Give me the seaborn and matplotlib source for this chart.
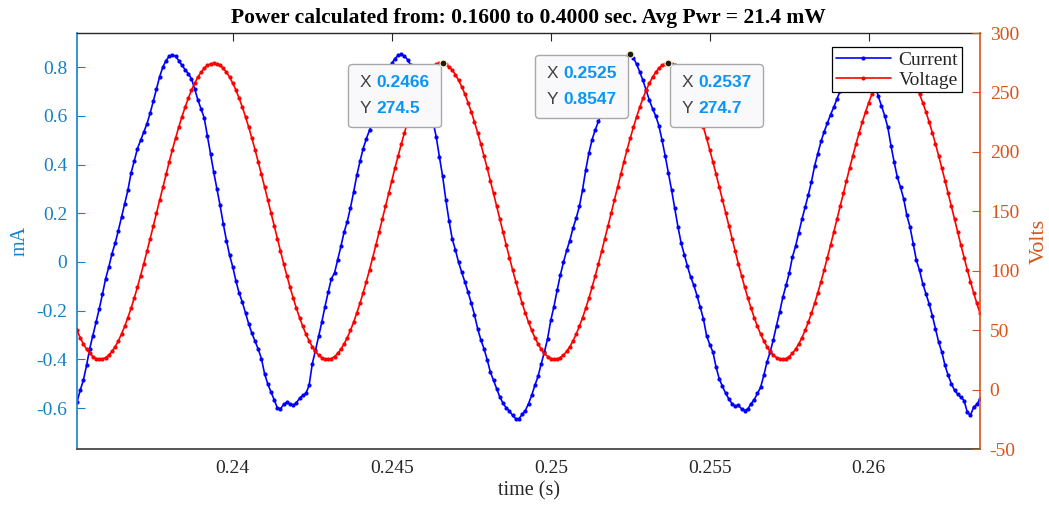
#!/usr/bin/env python3
"""Current / voltage trace with MATLAB-style data tips, redrawn with seaborn."""

import matplotlib
matplotlib.use("Agg")
import matplotlib.pyplot as plt
import numpy as np
import pandas as pd
import seaborn as sns
from matplotlib.offsetbox import AnnotationBbox, HPacker, TextArea, VPacker
from matplotlib.ticker import FuncFormatter

# sampling of the trace shown (10 kHz, starting at 0.2351 s)
T_START = 0.2351
T_STEP = 0.0001

# current in mA, one value per sample
current_ma = [
    -0.575, -0.527, -0.486, -0.425, -0.356, -0.302, -0.247, -0.192, -0.133, -0.069,
    -0.021, 0.034, 0.077, 0.129, 0.184, 0.239, 0.294, 0.365, 0.414, 0.465,
    0.499, 0.533, 0.567, 0.611, 0.660, 0.711, 0.761, 0.800, 0.827, 0.844,
    0.851, 0.844, 0.827, 0.807, 0.790, 0.773, 0.752, 0.711, 0.666, 0.629,
    0.592, 0.519, 0.444, 0.369, 0.300, 0.232, 0.157, 0.088, 0.027, -0.021,
    -0.079, -0.128, -0.165, -0.210, -0.254, -0.293, -0.325, -0.358, -0.397, -0.459,
    -0.501, -0.534, -0.565, -0.599, -0.603, -0.585, -0.576, -0.584, -0.589, -0.578,
    -0.560, -0.548, -0.540, -0.507, -0.418, -0.363, -0.306, -0.247, -0.183, -0.124,
    -0.069, -0.045, 0.010, 0.064, 0.122, 0.166, 0.222, 0.287, 0.355, 0.413,
    0.465, 0.506, 0.540, 0.575, 0.615, 0.660, 0.705, 0.750, 0.790, 0.815,
    0.835, 0.848, 0.852, 0.845, 0.830, 0.807, 0.790, 0.770, 0.745, 0.705,
    0.660, 0.620, 0.575, 0.512, 0.430, 0.351, 0.255, 0.170, 0.095, 0.050,
    -0.001, -0.042, -0.083, -0.124, -0.169, -0.216, -0.274, -0.319, -0.356, -0.401,
    -0.452, -0.486, -0.521, -0.555, -0.580, -0.599, -0.612, -0.630, -0.644, -0.644,
    -0.626, -0.610, -0.582, -0.548, -0.507, -0.470, -0.418, -0.370, -0.315, -0.240,
    -0.183, -0.117, -0.055, -0.001, 0.047, 0.088, 0.139, 0.180, 0.228, 0.296,
    0.378, 0.447, 0.502, 0.543, 0.577, 0.610, 0.645, 0.680, 0.715, 0.750,
    0.780, 0.805, 0.828, 0.845, 0.8547, 0.838, 0.812, 0.780, 0.745, 0.705,
    0.665, 0.630, 0.600, 0.560, 0.500, 0.435, 0.365, 0.295, 0.220, 0.145,
    0.078, 0.030, -0.018, -0.062, -0.096, -0.138, -0.186, -0.233, -0.302, -0.339,
    -0.370, -0.432, -0.480, -0.511, -0.539, -0.562, -0.582, -0.593, -0.589, -0.603,
    -0.610, -0.603, -0.582, -0.565, -0.540, -0.515, -0.466, -0.411, -0.370, -0.319,
    -0.261, -0.206, -0.144, -0.096, -0.046, 0.020, 0.065, 0.120, 0.175, 0.225,
    0.275, 0.330, 0.395, 0.445, 0.495, 0.535, 0.570, 0.605, 0.635, 0.668,
    0.700, 0.735, 0.770, 0.800, 0.825, 0.842, 0.850, 0.845, 0.830, 0.810,
    0.780, 0.730, 0.680, 0.642, 0.601, 0.553, 0.478, 0.410, 0.348, 0.307,
    0.259, 0.191, 0.143, 0.075, 0.006, -0.035, -0.089, -0.130, -0.172, -0.220,
    -0.274, -0.329, -0.370, -0.425, -0.466, -0.500, -0.527, -0.544, -0.555, -0.569,
    -0.617, -0.630, -0.596, -0.585, -0.562,
]

# voltage in V, one value per sample
voltage_v = [
    49.8, 43.7, 38.4, 34.0, 30.4, 27.8, 26.1, 25.4, 25.7, 26.9,
    29.0, 32.1, 36.1, 41.0, 46.7, 53.2, 60.5, 68.4, 77.0, 86.1,
    95.8, 105.8, 116.2, 126.9, 137.7, 148.6, 159.6, 170.4, 181.2, 191.6,
    201.8, 211.5, 220.8, 229.5, 237.6, 245.1, 251.8, 257.7, 262.8, 267.0,
    270.3, 272.7, 274.1, 274.6, 274.1, 272.7, 270.3, 267.0, 262.8, 257.7,
    251.8, 245.1, 237.6, 229.5, 220.8, 211.5, 201.8, 191.6, 181.2, 170.4,
    159.6, 148.6, 137.7, 126.9, 116.2, 105.8, 95.8, 86.1, 77.0, 68.4,
    60.5, 53.2, 46.7, 41.0, 36.1, 32.1, 29.0, 26.9, 25.7, 25.4,
    26.1, 27.8, 30.4, 34.0, 38.4, 43.7, 49.8, 56.7, 64.4, 72.6,
    81.5, 90.9, 100.7, 111.0, 121.5, 132.3, 143.2, 154.1, 165.0, 175.8,
    186.4, 196.7, 206.7, 216.2, 225.2, 233.6, 241.4, 248.5, 254.8, 260.3,
    265.0, 268.8, 271.6, 273.5, 274.5, 274.5, 273.5, 271.6, 268.8, 265.0,
    260.3, 254.8, 248.5, 241.4, 233.6, 225.2, 216.2, 206.7, 196.7, 186.4,
    175.8, 165.0, 154.1, 143.2, 132.3, 121.5, 111.0, 100.7, 90.9, 81.5,
    72.6, 64.4, 56.7, 49.8, 43.7, 38.4, 34.0, 30.4, 27.8, 26.1,
    25.4, 25.7, 26.9, 29.0, 32.1, 36.1, 41.0, 46.7, 53.2, 60.5,
    68.4, 77.0, 86.1, 95.8, 105.8, 116.2, 126.9, 137.7, 148.6, 159.6,
    170.4, 181.2, 191.6, 201.8, 211.5, 220.8, 229.5, 237.6, 245.1, 251.8,
    257.7, 262.8, 267.0, 270.3, 272.7, 274.1, 274.7, 274.1, 272.7, 270.3,
    267.0, 262.8, 257.7, 251.8, 245.1, 237.6, 229.5, 220.8, 211.5, 201.8,
    191.6, 181.2, 170.4, 159.6, 148.6, 137.7, 126.9, 116.2, 105.8, 95.8,
    86.1, 77.0, 68.4, 60.5, 53.2, 46.7, 41.0, 36.1, 32.1, 29.0,
    26.9, 25.7, 25.4, 26.1, 27.8, 30.4, 34.0, 38.4, 43.7, 49.8,
    56.7, 64.4, 72.6, 81.5, 90.9, 100.7, 111.0, 121.5, 132.3, 143.2,
    154.1, 165.0, 175.8, 186.4, 196.7, 206.7, 216.2, 225.2, 233.6, 241.4,
    248.5, 254.8, 260.3, 265.0, 268.8, 271.6, 273.5, 274.5, 274.5, 273.5,
    271.6, 268.8, 265.0, 260.3, 254.8, 248.5, 241.4, 233.6, 225.2, 216.2,
    206.7, 196.7, 186.4, 175.8, 165.0, 154.1, 143.2, 132.3, 121.5, 111.0,
    100.7, 90.9, 81.5, 72.6, 64.4,
]

# data tips: which series, which sample, which side the box sits on
tip_series = ["Voltage", "Current", "Voltage"]
tip_index = [115, 174, 186]
tip_side = ["left", "left", "right"]

x_ticks = [0.24, 0.245, 0.25, 0.255, 0.26]
ma_ticks = [-0.6, -0.4, -0.2, 0, 0.2, 0.4, 0.6, 0.8]
volt_ticks = [-50, 0, 50, 100, 150, 200, 250, 300]
ma_lim = (-0.768, 0.94)
volt_lim = (-50, 300)

TITLE = "Power calculated from: 0.1600 to 0.4000 sec. Avg Pwr = 21.4 mW"

LEFT_C = "#1580c6"
RIGHT_C = "#D95319"
AX_C = "#262626"


def fmt_g(v, _pos=None):
    return f"{round(v, 6):g}"


def main() -> None:
    assert len(current_ma) == len(voltage_v)
    time = np.round(T_START + T_STEP * np.arange(len(current_ma)), 6)
    df = pd.DataFrame({"time": time, "Current": current_ma, "Voltage": voltage_v})

    sns.set_theme(style="white")
    plt.rcParams.update({
        "font.family": ["Liberation Serif", "DejaVu Serif"],
        "axes.unicode_minus": False,
    })

    fig = plt.figure(figsize=(10.49, 5.14), dpi=100)
    ax = fig.add_axes([77 / 1049, 65 / 514, 903 / 1049, 416 / 514])
    ax2 = ax.twinx()

    line_kw = dict(linewidth=1.2, marker="o", markersize=3.0,
                   markeredgewidth=0, errorbar=None, sort=False, legend=False)
    sns.lineplot(data=df, x="time", y="Current", ax=ax, color="blue", **line_kw)
    sns.lineplot(data=df, x="time", y="Voltage", ax=ax2, color="red", **line_kw)

    ax.set_xlim(time[0], time[-1])
    ax.set_ylim(*ma_lim)
    ax2.set_ylim(*volt_lim)
    ax.set_xticks(x_ticks)
    ax.set_yticks(ma_ticks)
    ax2.set_yticks(volt_ticks)
    ax.xaxis.set_major_formatter(FuncFormatter(fmt_g))
    ax.yaxis.set_major_formatter(FuncFormatter(fmt_g))
    ax2.yaxis.set_major_formatter(FuncFormatter(fmt_g))

    # spines / ticks, MATLAB look
    ax.spines["right"].set_visible(False)
    for s in ("left", "top", "bottom"):
        ax2.spines[s].set_visible(False)
    ax.spines["left"].set_color(LEFT_C)
    ax.spines["top"].set_color(AX_C)
    ax.spines["bottom"].set_color("#555555")
    ax.spines["bottom"].set_linewidth(1.4)
    ax.spines["left"].set_linewidth(1.2)
    ax.spines["top"].set_linewidth(1.0)
    ax2.spines["right"].set_color(RIGHT_C)
    ax2.spines["right"].set_linewidth(1.2)

    ax.tick_params(axis="x", direction="in", top=True, length=6, width=0.8,
                   colors=AX_C, labelsize=14, pad=8)
    ax.tick_params(axis="y", direction="in", length=6, width=0.8,
                   colors=LEFT_C, labelsize=14, pad=7)
    ax2.tick_params(axis="y", direction="in", length=6, width=0.8,
                    colors=RIGHT_C, labelsize=14, pad=7)

    ax.set_xlabel("time (s)", fontsize=14.5, color=AX_C, labelpad=3)
    ax.set_ylabel("mA", fontsize=14.5, color=LEFT_C, labelpad=5)
    ax2.set_ylabel("Volts", fontsize=16, color=RIGHT_C, labelpad=8)
    ax.set_title(TITLE, fontsize=15.5, fontweight="bold", color="black", pad=7)

    handles = [ax.get_lines()[0], ax2.get_lines()[0]]
    leg = ax2.legend(handles, ["Current", "Voltage"], loc="upper right",
                     bbox_to_anchor=(0.980, 0.966), borderaxespad=0,
                     fontsize=14, handlelength=2.8, handletextpad=0.4,
                     borderpad=0.2, labelspacing=0.12, fancybox=False,
                     framealpha=1, edgecolor="black")
    leg.get_frame().set_linewidth(0.9)
    leg.set_zorder(30)

    # data tips
    series_axes = {"Current": ax, "Voltage": ax2}
    for name, idx, side in zip(tip_series, tip_index, tip_side):
        tax = series_axes[name]
        xv = time[idx]
        yv = df[name].iloc[idx]
        tax.plot([xv], [yv], "o", ms=5, mfc="#1a1a1a", mec="#fff3c4",
                 mew=0.9, zorder=25)
        rows = []
        for lab, val in (("X", f"{xv:.4g}"), ("Y", f"{yv:.4g}")):
            rows.append(HPacker(children=[
                TextArea(lab, textprops=dict(color="#404040", fontsize=12.5,
                                             family="Liberation Sans")),
                TextArea(val, textprops=dict(color="#0a96f5", fontsize=12.5,
                                             fontweight="bold",
                                             family="Liberation Sans")),
            ], sep=4, pad=0, align="baseline"))
        box = VPacker(children=rows, sep=8, pad=8, align="left")
        if side == "left":
            off, align = (-1.5, -0.6), (1, 1)
        else:
            off, align = (1.5, -0.6), (0, 1)
        ab = AnnotationBbox(box, (xv, yv), xycoords=tax.transData,
                            xybox=off, boxcoords="offset points",
                            box_alignment=align, pad=0, frameon=True,
                            bboxprops=dict(boxstyle="round,pad=0,rounding_size=0.25",
                                           fc="#f9f9fb", ec="#a8a8a8", lw=1.0))
        ab.set_zorder(20)
        ax2.add_artist(ab)

    fig.savefig("out.png", dpi=100)
    plt.close(fig)


if __name__ == "__main__":
    main()
